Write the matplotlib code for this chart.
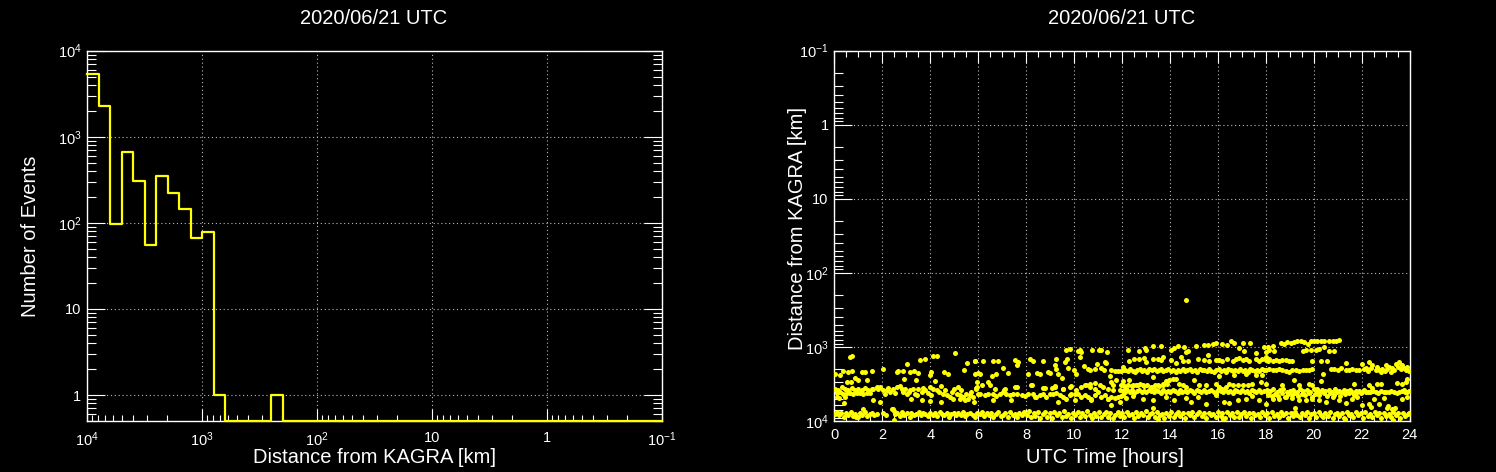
import numpy as np
import matplotlib
matplotlib.use("Agg")
import matplotlib.pyplot as plt
from matplotlib.ticker import FuncFormatter, LogLocator, MultipleLocator, NullFormatter

plt.rcParams['font.family'] = ['Liberation Sans', 'DejaVu Sans']
plt.rcParams['mathtext.fontset'] = 'custom'
plt.rcParams['mathtext.rm'] = 'Liberation Sans'
plt.rcParams['mathtext.it'] = 'Liberation Sans:italic'

title = "2020/06/21 UTC"

# histogram: 50 log bins from 10^4 km down to 10^-1 km (0.1 decade each)
bin_edges = np.logspace(4, -1, 51)
counts = [5400, 2280, 96, 660, 305, 56, 352, 223, 144, 66,
          78, 1, 0, 0, 0, 0, 1, 0, 0, 0,
          0, 0, 0, 0, 0, 0, 0, 0, 0, 0,
          0, 0, 0, 0, 0, 0, 0, 0, 0, 0,
          0, 0, 0, 0, 0, 0, 0, 0, 0, 0]

# scatter: (UTC hour, distance km)
band_8000 = [
    (0.02, 8100), (0.11, 7600), (0.19, 8400), (0.3, 7900), (0.41, 8700), (0.5, 7700), (0.58, 8200), (0.69, 7500),
    (0.8, 8500), (0.88, 8000), (0.97, 8800), (1.08, 7800), (1.17, 8300), (1.28, 7600), (1.36, 8600), (1.47, 8100),
    (1.58, 7900), (1.66, 8400), (1.77, 8000), (2.05, 7700), (2.14, 8300),
    (2.47, 7400), (2.55, 8100), (2.63, 7800), (2.74, 8500), (2.83, 7600), (2.92, 8200), (3.03, 7900), (3.14, 8700),
    (3.22, 7700), (3.33, 8300), (3.41, 8000), (3.52, 7600), (3.61, 8400), (3.69, 7800), (3.8, 8100), (3.91, 8600),
    (3.99, 7700), (4.1, 8200), (4.2, 7900), (4.28, 8500), (4.39, 7600), (4.5, 8000), (4.58, 8300), (4.69, 7800),
    (4.77, 8700), (4.88, 8100), (4.98, 7700), (5.07, 8400), (5.18, 7900), (5.27, 8200), (5.36, 7600), (5.47, 8500),
    (5.55, 8000), (5.66, 7800), (5.77, 8300), (5.86, 8800), (5.95, 7700),
    (6.06, 8100), (6.17, 7500), (6.25, 8600), (6.36, 7900), (6.45, 8300), (6.55, 7700), (6.64, 8800), (6.75, 8000),
    (6.84, 7600), (6.94, 8500), (7.05, 8200), (7.13, 7800), (7.24, 8700), (7.33, 7500), (7.44, 8300), (7.52, 8000),
    (7.63, 8900), (7.72, 7700), (7.83, 8400), (7.91, 7600),
    (8.02, 8200), (8.11, 7400), (8.2, 8900), (8.31, 7800), (8.39, 8500), (8.5, 7500), (8.59, 9100), (8.7, 8000),
    (8.78, 7600), (8.89, 8700), (8.98, 7900), (9.09, 9000), (9.17, 7500), (9.28, 8300), (9.37, 7800), (9.48, 8800),
    (9.56, 7400), (9.67, 8500), (9.76, 8000), (9.87, 9100), (9.95, 7700),
    (10.06, 8400), (10.15, 7500), (10.26, 8900), (10.34, 7900), (10.45, 8600), (10.54, 7400), (10.65, 8200), (10.73, 9000),
    (10.84, 7700), (10.93, 8500), (11.04, 7600), (11.12, 8800), (11.23, 8000), (11.32, 7500), (11.43, 8700), (11.51, 7800),
    (11.62, 9100), (11.71, 8200), (11.82, 7600), (11.9, 8500),
    (12.01, 7800), (12.1, 8900), (12.21, 7500), (12.29, 8400), (12.4, 8000), (12.49, 9000), (12.6, 7600), (12.68, 8600),
    (12.79, 7900), (12.88, 8300), (12.99, 7400), (13.07, 8800), (13.18, 8100), (13.27, 7700), (13.38, 8900), (13.46, 7500),
    (13.57, 8400), (13.66, 8000), (13.77, 9100), (13.85, 7700), (13.96, 8500),
    (14.05, 7600), (14.16, 8800), (14.24, 8000), (14.35, 7500), (14.44, 8600), (14.55, 7900), (14.63, 9000), (14.74, 7700),
    (14.83, 8300), (14.94, 7600), (15.02, 8900), (15.13, 8100), (15.22, 7500), (15.33, 8500), (15.41, 7800), (15.52, 9100),
    (15.61, 7700), (15.72, 8400), (15.8, 8000), (15.91, 8800),
    (16.0, 7600), (16.11, 8500), (16.19, 7900), (16.3, 9000), (16.39, 7500), (16.5, 8300), (16.58, 7800), (16.69, 8700),
    (16.78, 7600), (16.89, 8900), (16.97, 8100), (17.08, 7500), (17.17, 8600), (17.28, 7900), (17.36, 9100), (17.47, 7700),
    (17.56, 8400), (17.67, 8000), (17.75, 8800), (17.86, 7600), (17.95, 8300),
    (18.06, 7800), (18.14, 9000), (18.25, 7500), (18.34, 8500), (18.45, 8000), (18.53, 8800), (18.64, 7600), (18.73, 8300),
    (18.84, 7900), (18.92, 9100), (19.03, 7700), (19.12, 8600), (19.23, 7500), (19.31, 8200), (19.42, 8900), (19.51, 7800),
    (19.62, 8400), (19.7, 7600), (19.81, 9000), (19.9, 8000),
    (20.01, 7700), (20.09, 8700), (20.2, 7500), (20.29, 8300), (20.4, 8900), (20.48, 7800), (20.59, 8500), (20.68, 7600),
    (20.79, 9100), (20.87, 8100), (20.98, 7700), (21.07, 8600), (21.18, 7900), (21.26, 9000), (21.37, 7500), (21.46, 8400),
    (21.57, 8000), (21.65, 8800), (21.76, 7600), (21.85, 8300), (21.96, 7800),
    (22.04, 9000), (22.15, 7600), (22.24, 8500), (22.35, 8000), (22.43, 8900), (22.54, 7500), (22.63, 8300), (22.74, 7800),
    (22.82, 9100), (22.93, 7700), (23.02, 8600), (23.13, 8000), (23.21, 8800), (23.32, 7500), (23.41, 8400), (23.52, 7900),
    (23.6, 9000), (23.71, 7700), (23.8, 8500), (23.91, 8100), (23.98, 7800),
    (0.9, 8900), (2.5, 9600), (13.5, 9500), (23.3, 9700), (16.2, 9400), (21.3, 9500),
    (1.2, 6800), (2.4, 6900), (13.3, 6700), (19.2, 6600), (22.4, 6400), (23.1, 6200), (23.4, 6600),
]

band_4000 = [
    (0.03, 3750), (0.1, 4250), (0.17, 3850), (0.24, 4100), (0.31, 3450), (0.38, 4300), (0.45, 3700), (0.52, 4200),
    (0.58, 3850), (0.65, 4250), (0.72, 3600), (0.79, 4350), (0.86, 3850), (0.93, 4200), (1.0, 3750), (1.07, 4250),
    (1.14, 3850), (1.21, 4300), (1.28, 3600), (1.35, 4250), (1.42, 3850), (1.49, 4200), (1.56, 3700), (1.63, 3750),
    (0.1, 4700), (0.45, 4800), (0.4, 5750), (0.2, 4900), (1.63, 5250),
    (1.77, 3470), (1.83, 3750), (1.9, 3470), (2.04, 3780), (2.18, 3850), (2.32, 4050), (2.46, 3750), (2.6, 3470),
    (2.74, 3370), (2.81, 3750), (2.88, 4050), (3.02, 4270), (3.15, 3850), (3.29, 3750), (3.36, 4270), (3.5, 3750),
    (3.64, 4050), (3.78, 3850), (3.99, 3470), (4.13, 3750), (4.27, 3850), (4.47, 3370), (4.54, 4270), (4.68, 4400),
    (4.82, 4730), (4.96, 4990), (5.1, 4355), (5.24, 4500), (5.38, 4730), (5.51, 4270), (5.65, 4400), (5.79, 4730),
    (5.93, 3750), (6.0, 4355),
    (2.1, 4300), (2.25, 3600), (2.55, 4150), (2.95, 3650), (3.1, 4000), (3.45, 4450), (3.7, 3600), (3.9, 4150),
    (4.05, 4400), (4.35, 4100), (4.6, 3800), (4.9, 4100), (5.3, 3850), (5.7, 4100), (5.0, 3700),
    (1.9, 5500), (2.46, 6800), (3.22, 5000), (3.64, 5250), (3.99, 5350), (4.47, 5500), (5.24, 5000), (5.45, 5250),
    (5.58, 5000), (5.82, 5500),
    (6.07, 4355), (6.28, 4500), (6.42, 4270), (6.63, 4355), (6.76, 4640), (6.9, 4270), (7.04, 4050), (7.18, 4355),
    (7.32, 4500), (7.46, 4270), (7.6, 4355), (7.81, 4500), (7.94, 4640), (8.08, 4355), (8.29, 4355), (8.43, 4730),
    (8.57, 4500), (8.71, 4270), (8.85, 4730), (8.99, 4270), (9.13, 4355), (9.26, 4200), (9.4, 4500), (9.54, 4730),
    (9.68, 4990), (9.82, 4500), (9.89, 4270), (10.03, 4270), (10.17, 4270), (10.31, 4730), (10.44, 4500), (10.58, 4730),
    (10.72, 4990), (10.86, 4500), (11.0, 4050), (11.14, 4730), (11.28, 4500), (11.42, 4990), (11.56, 4730), (11.69, 4830),
    (11.83, 4730), (11.97, 4640),
    (5.97, 3470), (6.14, 3300), (6.49, 3300), (6.69, 3660), (7.08, 3780), (7.53, 3470), (8.22, 3300), (8.78, 3580),
    (9.19, 3470), (9.54, 3660), (9.82, 3470), (10.1, 3850), (10.44, 3300), (10.65, 3470), (10.86, 3660), (11.21, 3470),
    (11.42, 3660), (11.63, 3850), (11.9, 3850), (12.04, 3300),
    (6.63, 5250), (7.39, 5250), (8.36, 4730), (9.33, 5530), (10.03, 5250), (10.72, 5250), (11.42, 4990), (11.56, 6140),
    (11.9, 5530),
    (12.03, 3900), (12.12, 4100), (12.22, 3800), (12.33, 4000), (12.41, 3850), (12.52, 4150), (12.62, 3900), (12.71, 3780),
    (12.83, 4050), (12.92, 3900), (13.02, 4120), (13.12, 3820), (13.21, 3980), (13.32, 4100), (13.41, 3850), (13.52, 3950),
    (13.61, 4150), (13.72, 3800), (13.82, 4000), (13.91, 3900), (14.02, 4080), (14.12, 3850), (14.21, 3950), (14.32, 4150),
    (14.42, 3800), (14.51, 4020), (14.62, 3900), (14.71, 4100), (14.82, 3850), (14.92, 3980), (15.02, 4150), (15.12, 3800),
    (15.21, 3950), (15.31, 4050), (15.42, 3850), (15.51, 4100), (15.61, 3900), (15.72, 3800), (15.82, 4000), (15.91, 4150),
    (16.02, 3850), (16.11, 3950), (16.22, 4100), (16.31, 3800), (16.42, 4000), (16.52, 3900), (16.61, 4150), (16.72, 3850),
    (16.81, 3950), (16.92, 4080), (17.02, 3820), (17.11, 4000), (17.22, 3900), (17.31, 4150), (17.42, 3850), (17.52, 3950),
    (17.61, 4100), (17.72, 3800), (17.81, 4000), (17.92, 3900),
    (12.08, 3350), (12.25, 3250), (12.4, 3400), (12.58, 3300), (12.75, 3200), (12.9, 3350), (13.05, 3300), (13.2, 3450),
    (13.38, 3250), (13.55, 3350), (13.7, 3300), (13.88, 3200),
    (18.03, 3800), (18.1, 4400), (18.17, 3950), (18.24, 4650), (18.31, 3700), (18.38, 4300), (18.45, 4000), (18.52, 4550),
    (18.59, 3850), (18.66, 4250), (18.73, 3750), (18.8, 4700), (18.87, 4050), (18.94, 4350), (19.01, 3900), (19.08, 4500),
    (19.15, 3800), (19.22, 4200), (19.29, 4000), (19.36, 4600), (19.43, 3700), (19.5, 4300), (19.57, 3950), (19.64, 4450),
    (19.71, 3850), (19.78, 4150), (19.85, 4000), (19.92, 4700), (19.99, 3750), (20.06, 4350), (20.13, 3900), (20.2, 4500),
    (20.27, 4050), (20.34, 3800), (20.41, 4250), (20.48, 3950), (20.55, 4600), (20.62, 3850), (20.69, 4150), (20.76, 4000),
    (20.83, 4400), (20.9, 3750), (20.97, 4100), (21.04, 3900), (21.11, 4550), (21.18, 4000), (21.25, 3800), (21.32, 4300),
    (21.39, 3950), (21.46, 4150), (21.53, 3850), (21.6, 4000), (21.67, 4450), (21.74, 3900), (21.81, 4100), (21.88, 3950),
    (21.95, 4250), (22.02, 4000), (22.09, 3850), (22.16, 4050),
    (22.25, 4000), (22.36, 4100), (22.47, 3950), (22.58, 4050), (22.69, 4150), (22.8, 3950), (22.91, 4050), (23.02, 4000),
    (23.13, 4100), (23.24, 3950), (23.35, 4050), (23.46, 4150), (23.57, 4000), (23.68, 3950), (23.79, 4050), (23.9, 4100),
    (23.98, 3950),
]

band_2000 = [
    (11.56, 2070), (11.69, 2110), (11.83, 2110), (11.97, 2110),
    (12.04, 2080), (12.13, 2030), (12.24, 2120), (12.33, 2000), (12.44, 2090), (12.53, 2150), (12.64, 2040), (12.73, 1980),
    (12.84, 2100), (12.93, 2060), (13.04, 2160), (13.13, 2010), (13.24, 2080), (13.33, 1970), (13.44, 2120), (13.53, 2050),
    (13.64, 2000), (13.73, 2140), (13.84, 2070), (13.93, 1990), (14.04, 2100), (14.13, 2040), (14.24, 2170), (14.33, 2020),
    (14.44, 2090), (14.53, 1980), (14.64, 2130), (14.73, 2060), (14.84, 2000), (14.93, 2110), (15.04, 2050), (15.13, 2160),
    (15.24, 1990), (15.33, 2080), (15.44, 2030), (15.53, 2120), (15.64, 2010), (15.73, 2090), (15.84, 2150), (15.93, 2040),
    (16.04, 1980), (16.13, 2100), (16.24, 2060), (16.33, 2170), (16.44, 2000), (16.53, 2080), (16.64, 2130), (16.73, 2020),
    (16.84, 2090), (16.93, 1970), (17.04, 2110), (17.13, 2050), (17.24, 2160), (17.33, 2010), (17.44, 2080), (17.53, 2120),
    (17.64, 2030), (17.73, 2100), (17.84, 1990), (17.93, 2070),
    (18.0, 2025), (18.14, 1963), (18.28, 2070), (18.42, 2025), (18.56, 1963), (18.69, 2070), (18.83, 2110), (18.97, 2180),
    (19.11, 2070), (19.25, 2070), (19.39, 2110), (19.53, 2025), (19.67, 2070), (19.81, 2070), (19.94, 1963),
    (20.71, 1963), (20.85, 1963), (20.99, 2025), (21.13, 1900), (21.33, 2025), (21.47, 2070), (21.61, 1963), (21.75, 2070),
    (21.89, 2025), (22.03, 1710), (22.17, 1900), (22.31, 1593), (22.44, 1767), (22.58, 2070), (22.72, 2025), (22.86, 1963),
    (23.0, 1767), (23.14, 1860), (23.28, 1900), (23.42, 1680), (23.56, 1593), (23.69, 1767), (23.83, 2070), (23.97, 2110),
    (22.1, 2000), (22.25, 2100), (22.4, 1950), (22.65, 1850), (22.8, 2150), (22.95, 2100), (23.05, 2000), (23.2, 2150),
    (23.35, 2050), (23.5, 1850), (23.62, 2000), (23.76, 1900), (23.9, 1850),
]

band_1000 = [
    (12.24, 1090), (12.72, 1120), (12.97, 1030), (13.0, 1090), (13.31, 975), (13.63, 975), (14.04, 1090), (14.18, 1030),
    (14.32, 960), (14.57, 990), (14.67, 1170), (14.74, 1120), (15.08, 975), (15.43, 940), (15.57, 930), (15.78, 910),
    (15.92, 890), (16.19, 910), (16.4, 940), (16.54, 840), (16.68, 890), (16.86, 1030), (17.03, 880), (17.1, 1120),
    (17.33, 880), (17.58, 1195), (17.93, 1010), (18.07, 990), (18.0, 1170),
    (18.63, 890), (18.76, 910), (18.9, 865), (19.04, 890), (19.18, 865), (19.32, 840), (19.46, 820), (19.6, 865),
    (19.74, 910), (19.88, 840), (20.01, 820), (20.15, 820), (20.29, 820), (20.43, 820), (20.64, 820), (20.78, 840),
    (20.92, 840), (21.06, 800),
    (18.14, 1090), (18.28, 960), (18.35, 1120), (19.53, 1120), (19.67, 1090), (19.88, 1090), (20.08, 1090), (20.22, 1060),
    (20.43, 1010), (20.64, 1145), (20.85, 1145),
    (9.68, 1090), (9.82, 1060), (10.17, 1145), (10.24, 1090), (10.31, 1170), (10.75, 1090), (11.03, 1090), (11.11, 1090),
    (11.38, 1160), (14.67, 234),
]

scattered = [
    (0.38, 2100), (0.52, 2950), (0.58, 2200), (0.72, 2100), (0.7, 2950), (0.86, 2650), (1.14, 2200), (1.28, 2150),
    (1.0, 2800), (1.35, 2800), (1.56, 2100), (0.65, 1360), (0.72, 1340), (0.24, 2400), (0.03, 2300), (2.04, 1970),
    (2.6, 2200), (2.64, 2100), (2.9, 2700), (2.88, 2100), (3.04, 1700), (3.15, 2200), (3.33, 2100), (3.4, 2800),
    (3.5, 2250), (3.57, 1500), (3.79, 1450), (3.99, 2400), (4.03, 2200), (4.21, 2900), (4.13, 1320), (4.29, 1320),
    (4.58, 2200), (4.75, 2300), (5.04, 1200), (5.17, 3450), (5.42, 2030), (5.54, 1630), (5.88, 1560), (5.93, 3550),
    (6.0, 2250),
    (5.86, 1560), (6.21, 1540), (6.63, 1560), (6.83, 1560), (7.53, 1480), (7.67, 1580), (8.15, 1440), (8.29, 1560),
    (8.71, 1530), (9.26, 1440), (9.61, 1590), (9.72, 1440), (5.86, 2290), (6.07, 2290), (6.56, 2470), (6.76, 2340),
    (7.04, 1900), (7.25, 2220), (7.6, 1770), (8.08, 2290), (8.46, 2220), (8.57, 2290), (8.92, 2200), (8.99, 2250),
    (9.19, 1770), (9.26, 1960), (9.31, 2290), (9.5, 2600), (9.75, 1920), (10.0, 2070), (10.07, 2340), (10.24, 1360),
    (10.42, 1790), (10.58, 2000), (10.65, 2025), (10.86, 2000), (10.97, 1680), (11.11, 1900), (11.25, 2070), (11.28, 1590),
    (11.35, 1640), (11.49, 2490), (12.04, 1860), (5.97, 2970), (6.42, 3000), (7.11, 3700), (7.6, 3470), (8.25, 3300),
    (8.71, 3545), (9.06, 3545), (9.19, 3400), (9.54, 3660), (9.86, 3400), (10.31, 3470), (10.49, 3230), (10.65, 3130),
    (10.86, 3060), (11.07, 3300), (11.56, 2970), (11.63, 3230), (11.76, 2760), (11.97, 3300), (12.04, 2880),
    (12.31, 2760), (12.44, 3300), (12.65, 3300), (12.86, 3300), (13.28, 3470), (13.49, 3300), (13.69, 3130), (13.83, 2880),
    (13.97, 2820), (14.11, 2680), (14.25, 2680), (14.39, 3130), (14.53, 3230), (14.67, 3470), (15.01, 2820), (15.22, 3300),
    (15.5, 3300), (15.92, 3130), (16.06, 3470), (16.19, 3660), (16.33, 3470), (16.47, 3130), (16.61, 3300), (16.82, 3230),
    (17.03, 3300), (17.24, 3230), (17.44, 3130), (17.58, 2415), (17.79, 2970), (18.0, 3130), (12.17, 3660), (13.31, 2540),
    (16.06, 2490), (16.68, 2415), (17.17, 2290), (17.86, 2415),
    (12.03, 4500), (12.17, 4830), (12.44, 4640), (12.86, 4990), (13.28, 5250), (13.83, 4730), (14.18, 5250), (14.67, 4830),
    (14.88, 5530), (15.15, 4730), (15.5, 5940), (15.92, 4500), (16.26, 5530), (16.47, 5650), (16.82, 5250), (17.17, 4990),
    (17.44, 4640), (17.72, 5250), (18.0, 5820), (18.07, 4270),
    (12.31, 1560), (12.51, 1470), (12.72, 1440), (12.93, 1390), (13.0, 1590), (13.28, 1470), (13.49, 1440), (13.63, 1480),
    (13.69, 1360), (14.04, 1510), (14.25, 1640), (14.46, 1360), (14.53, 1540), (14.74, 1560), (15.15, 1470), (15.43, 1510),
    (15.57, 1300), (15.64, 1560), (15.92, 1510), (16.06, 1510), (16.19, 1560), (16.4, 1440), (16.61, 1560), (16.75, 1440),
    (16.89, 1410), (17.03, 1510), (17.17, 1470), (17.31, 1560), (17.58, 1470), (17.72, 1560), (17.86, 1440), (18.0, 1360),
    (18.07, 1560),
    (18.0, 1480), (18.14, 1440), (18.28, 1540), (18.42, 1510), (18.56, 1560), (18.69, 1510), (18.83, 1480), (18.97, 1540),
    (19.08, 1560),
    (18.69, 3230), (19.18, 2820), (19.39, 3230), (19.81, 3130), (19.94, 3230), (20.15, 3660), (20.29, 2910), (20.39, 2290),
    (19.94, 1560), (20.29, 1560), (20.57, 1560), (21.33, 1640), (21.68, 3130), (22.31, 3230), (22.44, 3580), (22.65, 3130),
    (22.79, 3180), (23.49, 3060), (23.69, 3130), (23.83, 2970), (23.9, 2735),
    (18.28, 4990), (18.56, 4990), (18.83, 4730), (19.11, 4830), (19.39, 5250), (19.67, 5250), (19.94, 4990), (20.22, 5250),
    (20.5, 5530), (20.78, 4730), (21.06, 5140), (21.33, 5710), (21.61, 4990), (21.82, 4730), (22.03, 6010), (22.31, 5820),
    (22.51, 4990), (22.72, 5820), (22.93, 4830), (23.07, 6610), (23.28, 6810), (23.69, 4990), (23.9, 4730), (23.76, 3850),
]

FG = 'white'
YELLOW = '#ffff00'


def decade_label(v, pos):
    if np.isclose(v, 1):
        return '1'
    if np.isclose(v, 10):
        return '10'
    return r'$10^{%d}$' % int(round(np.log10(v)))


def style_axes(ax):
    ax.set_facecolor('black')
    for s in ax.spines.values():
        s.set_color(FG)
        s.set_linewidth(1.0)
    ax.grid(True, which='major', color='#bbbbbb', linestyle=(0, (1, 2.5)), linewidth=0.8)
    ax.tick_params(which='both', direction='in', colors=FG, width=0.8, labelsize=10.5)


fig = plt.figure(figsize=(14.96, 4.72), dpi=100, facecolor='black')

# ---------------- left: histogram ----------------
ax1 = fig.add_axes([87 / 1496, 51 / 472, 575 / 1496, 370.3 / 472])
style_axes(ax1)
ax1.set_xscale('log')
ax1.set_yscale('log')
ax1.set_xlim(1e4, 0.1)
ax1.set_ylim(0.5, 1e4)
ymin = ax1.get_ylim()[0]
shown = np.clip(np.array(counts, dtype=float), ymin, None)
ax1.step(bin_edges, np.append(shown, shown[-1]), where='post', color=YELLOW, lw=1.6, clip_on=False, zorder=4)
for axis in (ax1.xaxis, ax1.yaxis):
    axis.set_major_locator(LogLocator(base=10, numticks=10))
    axis.set_minor_locator(LogLocator(base=10, subs=np.arange(2, 10), numticks=10))
    axis.set_major_formatter(FuncFormatter(decade_label))
    axis.set_minor_formatter(NullFormatter())
ax1.tick_params(which='both', top=False, right=True)
ax1.tick_params(axis='y', which='major', length=13, pad=4)
ax1.tick_params(axis='y', which='minor', length=6.5)
ax1.tick_params(axis='x', which='major', length=8.6, pad=7)
ax1.tick_params(axis='x', which='minor', length=4.3)
ax1.set_xlabel('Distance from KAGRA [km]', color=FG, fontsize=14.5)
ax1.set_ylabel('Number of Events', color=FG, fontsize=14.5)
ax1.xaxis.set_label_coords(0.5, -0.072)
ax1.yaxis.set_label_coords(-0.082, 0.5)

# ---------------- right: scatter ----------------
ax2 = fig.add_axes([834.3 / 1496, 51 / 472, 575.4 / 1496, 370.3 / 472])
style_axes(ax2)
ax2.set_yscale('log')
ax2.set_xlim(0, 24)
ax2.set_ylim(1e4, 0.1)
for group in (band_8000, band_4000, band_2000, band_1000, scattered):
    hours, km = zip(*group)
    ax2.plot(hours, km, 'o', color=YELLOW, ms=3.6, mec='none', zorder=3)
ax2.xaxis.set_major_locator(MultipleLocator(2))
ax2.xaxis.set_minor_locator(MultipleLocator(0.5))
ax2.yaxis.set_major_locator(LogLocator(base=10, numticks=10))
ax2.yaxis.set_minor_locator(LogLocator(base=10, subs=np.arange(2, 10), numticks=10))
ax2.yaxis.set_major_formatter(FuncFormatter(decade_label))
ax2.yaxis.set_minor_formatter(NullFormatter())
ax2.tick_params(which='both', top=True, right=False)
ax2.tick_params(axis='y', which='major', length=13, pad=4)
ax2.tick_params(axis='y', which='minor', length=6.5)
ax2.tick_params(axis='x', which='major', length=8.6, pad=5)
ax2.tick_params(axis='x', which='minor', length=4.3)
ax2.set_xlabel('UTC Time [hours]', color=FG, fontsize=14.5)
ax2.set_ylabel('Distance from KAGRA [km]', color=FG, fontsize=14.5)
ax2.xaxis.set_label_coords(0.47, -0.072)
ax2.yaxis.set_label_coords(-0.047, 0.52)

fig.text(374 / 1496, 1 - 18 / 472, title, color=FG, fontsize=14.5, ha='center', va='center')
fig.text(1122 / 1496, 1 - 18 / 472, title, color=FG, fontsize=14.5, ha='center', va='center')

fig.savefig('out.png', dpi=100, facecolor='black')
